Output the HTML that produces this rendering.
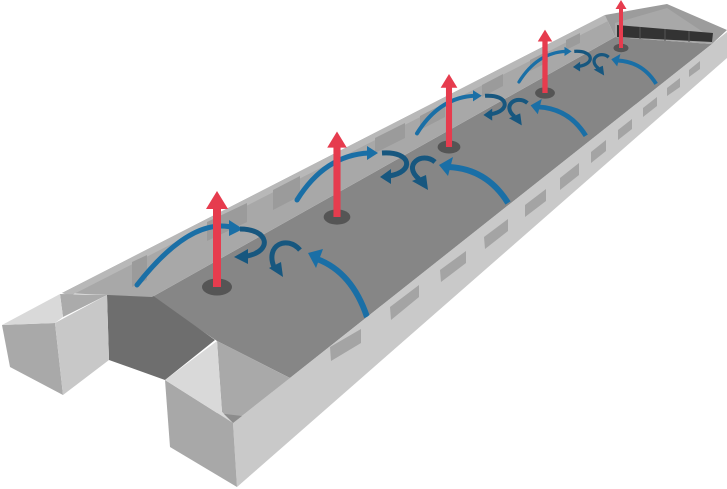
<!DOCTYPE html>
<html><head><meta charset="utf-8"><style>
html,body{margin:0;padding:0;background:#fff;width:727px;height:489px;overflow:hidden}
svg{display:block}
</style></head><body>
<svg width="727" height="489" viewBox="0 0 727 489" xmlns="http://www.w3.org/2000/svg">
<defs>
<g id="bay1">
  <path d="M -80,-2 Q -25,-72 18,-59" fill="none" stroke="#1a6fa6" stroke-width="5" stroke-linecap="round"/>
  <polygon points="26,-58 12,-67 12,-51" fill="#1a6fa6"/>
  <path d="M 150,30 Q 135,-15 100,-28" fill="none" stroke="#1a6fa6" stroke-width="6"/>
  <polygon points="91,-34 106,-38 99,-19" fill="#1a6fa6"/>
  <path d="M 23,-58 C 52,-58 56,-36 30,-31" fill="none" stroke="#17577f" stroke-width="5"/>
  <polygon points="17,-30 31,-38 31,-23" fill="#17577f"/>
  <path d="M 83,-37 C 70,-52 48,-42 57,-20" fill="none" stroke="#17577f" stroke-width="5"/>
  <polygon points="66,-10 52,-19 64,-25" fill="#17577f"/>
</g>
<g id="bay">
  <path d="M -40,-17 Q -12,-62 32,-64" fill="none" stroke="#1a6fa6" stroke-width="5" stroke-linecap="round"/>
  <polygon points="41,-64 30,-71 30,-57" fill="#1a6fa6"/>
  <path d="M 171,-14 Q 150,-48 112,-50" fill="none" stroke="#1a6fa6" stroke-width="6"/>
  <polygon points="102,-52 116,-60 111,-41" fill="#1a6fa6"/>
  <path d="M 45,-64 C 75,-66 78,-45 52,-41" fill="none" stroke="#17577f" stroke-width="5"/>
  <polygon points="43,-40 54,-48 54,-33" fill="#17577f"/>
  <path d="M 98,-55 C 85,-66 65,-52 82,-38" fill="none" stroke="#17577f" stroke-width="5"/>
  <polygon points="91,-27 75,-36 89,-42" fill="#17577f"/>
</g>
<g id="fan">
  <ellipse cx="0" cy="0" rx="15" ry="8.5" fill="#555"/>
  <rect x="-4" y="-80" width="8" height="80" fill="#e63c4e"/>
  <polygon points="-11,-78 11,-78 0,-96" fill="#e63c4e"/>
</g>
</defs>

<polygon points="152,297 615,37 712,44 290,378 217,341" fill="#868686"/>
<polygon points="107,295 152,295 215,340 165,380 109,360" fill="#6e6e6e"/>

<polygon points="62,293 605,15 615,37 152,297" fill="#a8a8a8"/>
<polygon points="62,293 605,15 610,20 70,296" fill="#b8b8b8"/>
<g fill="#9b9b9b">
<polygon points="132,262 147,255 147,280 132,287"/>
<polygon points="207,222 247,203 247,222 207,241"/>
<polygon points="273,190 300,176 300,196 273,210"/>
<polygon points="375,138 405,123 405,138 375,153"/>
<polygon points="420,116 445,103 445,117 420,130"/>
<polygon points="482,85 503,74 503,86 482,97"/>
<polygon points="530,60 548,51 548,62 530,71"/>
<polygon points="566,40 580,33 580,43 566,50"/>
</g>

<polygon points="605,15 667,4 727,30 712,44 615,37" fill="#9c9c9c"/>
<polygon points="615,23 667,8 712,38 712,44 615,37" fill="#a8a8a8"/>
<polygon points="617,25 713,33 712,42 617,37" fill="#333"/>
<g stroke="#555" stroke-width="1"><line x1="640" y1="27" x2="640" y2="39"/><line x1="665" y1="29" x2="665" y2="41"/><line x1="689" y1="31" x2="689" y2="42"/></g>

<polygon points="2,325 55,323 63,395 10,367" fill="#a9a9a9"/>
<polygon points="55,323 107,295 109,360 63,395" fill="#c8c8c8"/>
<polygon points="60,294 107,295 63,317" fill="#ababab"/>
<polygon points="2,325 60,294 63,317 55,323" fill="#d9d9d9"/>

<use href="#fan" transform="translate(621,48) scale(0.5)"/>
<use href="#bay" transform="translate(545,93) scale(0.65)"/>
<use href="#fan" transform="translate(545,93) scale(0.66)"/>
<use href="#bay" transform="translate(449,147) scale(0.8)"/>
<use href="#fan" transform="translate(449,147) scale(0.76)"/>
<use href="#bay" transform="translate(337,217)"/>
<use href="#fan" transform="translate(337,217) scale(0.89)"/>
<use href="#bay1" transform="translate(217,287)"/>
<use href="#fan" transform="translate(217,287)"/>

<polygon points="233,423 727,32 727,58 237,487" fill="#c9c9c9"/>
<g fill="#a4a4a4">
<polygon points="330,347 361,329 361,343 331,361"/>
<polygon points="390,307 419,285 419,297 391,320"/>
<polygon points="440,270 466,251 466,263 441,282"/>
<polygon points="484,237 508,219 508,231 485,249"/>
<polygon points="525,205 546,189 546,201 525,217"/>
<polygon points="560,178 579,163 579,175 560,190"/>
<polygon points="591,152 606,140 606,151 591,163"/>
<polygon points="618,130 632,119 632,129 618,140"/>
<polygon points="643,108 657,97 657,106 643,117"/>
<polygon points="667,88 680,78 680,87 667,96"/>
<polygon points="689,70 700,61 700,69 689,77"/>
</g>

<polygon points="165,380 233,423 237,487 170,447" fill="#a8a8a8"/>
<polygon points="217,341 290,378 233,423 222,412" fill="#a9a9a9"/>
<polygon points="217,413 242,416 233,423" fill="#8c8c8c"/>
<polygon points="165,380 217,341 222,412 233,423" fill="#d9d9d9"/>
</svg>
</body></html>
